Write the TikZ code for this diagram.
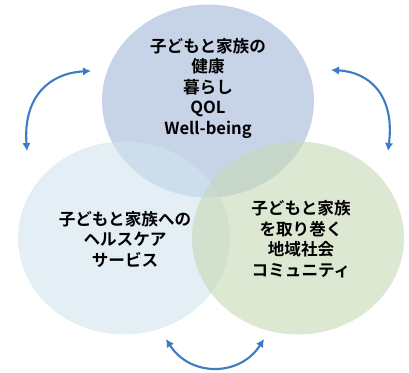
\documentclass[tikz,border=0pt]{standalone}
\usepackage{fontspec}
\newfontfamily\jpfont{Noto Sans CJK JP Bold}
\usetikzlibrary{shapes.geometric,arrows.meta}
\definecolor{topfill}{RGB}{199,212,232}
\definecolor{leftfill}{RGB}{208,227,238}
\definecolor{rightfill}{RGB}{198,217,182}
\definecolor{arrowblue}{RGB}{61,123,196}
\tikzset{
  bubble/.style={ellipse, minimum width=212pt, minimum height=193pt, inner sep=0pt, draw=none},
  label/.style={align=center, text=black, font=\jpfont\fontsize{16.6}{20.5}\selectfont},
  link/.style={draw=arrowblue, line width=2.1pt,
    {Latex[length=8pt,width=8.5pt]}-{Latex[length=8pt,width=8.5pt]}}
}
\begin{document}
\begin{tikzpicture}[x=1pt,y=-1pt]
\useasboundingbox (0,0) rectangle (409,372);
\node[bubble, fill=topfill] (top) at (208,101) {};
\node[bubble, fill=leftfill, fill opacity=0.6] (left) at (124,238) {};
\node[bubble, fill=rightfill, fill opacity=0.6] (right) at (298,238) {};
\node[label] (toptext) at (208,88) {子どもと家族の\\健康\\暮らし\\QOL\\Well-being};
\node[label] (lefttext) at (125,239) {子どもと家族への\\ヘルスケア\\サービス};
\node[label] (righttext) at (301,239) {子どもと家族\\を取り巻く\\地域社会\\コミュニティ};
\coordinate (la) at (91,71);
\coordinate (lb) at (27,151);
\coordinate (ra) at (331,70);
\coordinate (rb) at (388,151);
\coordinate (ba) at (166,339);
\coordinate (bb) at (264,339);
\draw[link] (la) .. controls (50,73) and (23,96) .. (lb);
\draw[link] (ra) .. controls (370,72) and (395,96) .. (rb);
\draw[link] (ba) .. controls (190,377) and (240,377) .. (bb);
\end{tikzpicture}
\end{document}
